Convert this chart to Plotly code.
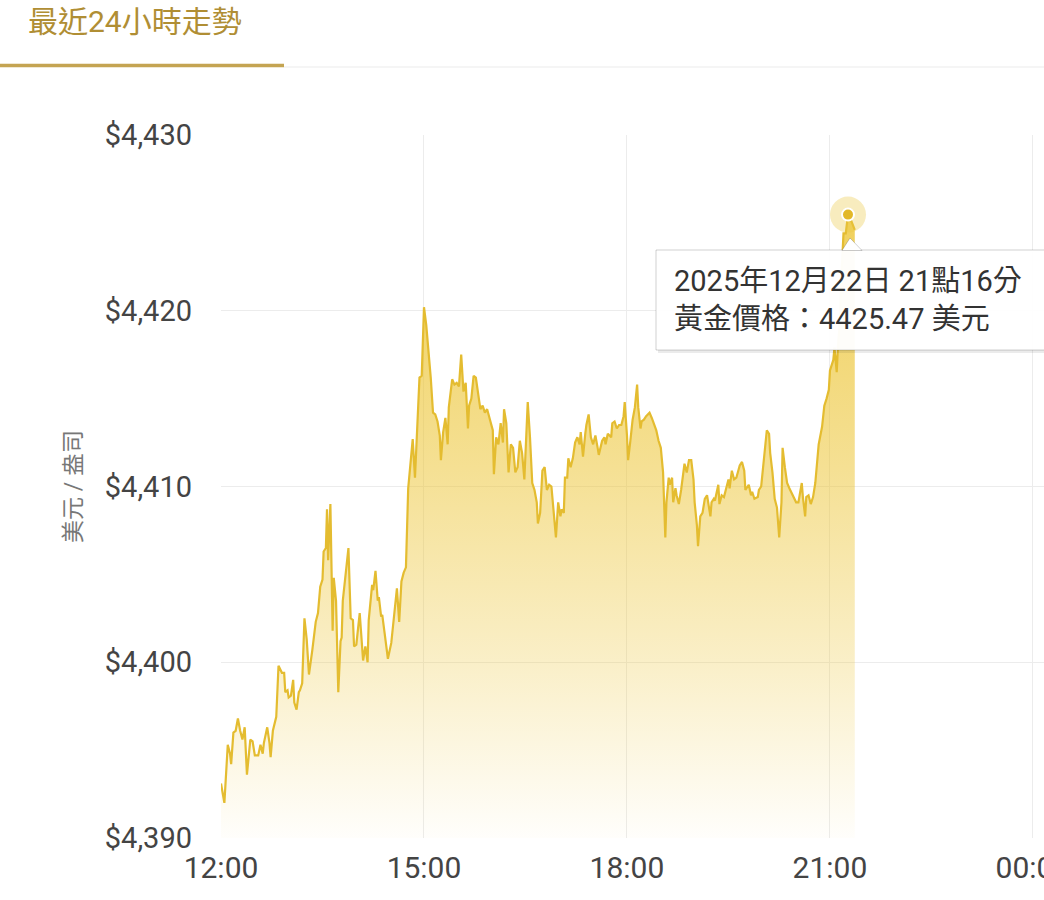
import plotly.graph_objects as go
import pandas as pd

# ---------------- data ----------------
base_time = "2025-12-22 12:00"
minutes = [0,3,6,8,9,11,13,15,17,19,21,23,26,28,30,33,35,37,38,41,43,44,46,49,51,54,56,57,59,60,
           62,64,65,67,69,70,72,74,76,78,81,84,86,88,90,91,93,94,95,97,99,100,102,104,106,107,108,110,111,113,
           115,117,118,120,123,124,126,128,130,131,134,135,137,139,140,142,143,145,148,151,153,156,158,160,162,164,166,168,170,172,
           174,176,178,180,182,184,186,188,190,192,194,195,197,199,201,202,205,207,209,211,213,215,217,219,220,222,224,226,228,230,
           232,234,236,239,241,242,244,246,248,250,251,253,255,257,259,261,263,265,267,269,272,274,276,278,280,281,283,285,287,289,
           291,293,295,297,299,301,302,304,305,307,308,310,312,314,316,318,319,321,323,324,326,328,330,332,334,335,338,340,341,343,
           346,347,349,351,353,355,357,358,360,361,363,365,367,369,370,372,373,375,377,379,380,382,384,386,388,390,392,393,394,395,
           397,398,400,401,403,404,406,408,410,411,413,415,417,419,420,422,423,425,427,429,431,432,434,435,437,438,440,441,442,444,
           446,448,450,451,453,455,457,460,462,464,465,468,470,471,473,476,477,479,482,484,486,487,489,491,493,494,495,497,498,500,
           502,504,506,508,510,512,515,516,518,519,521,523,525,527,529,530,533,535,537,539,540,543,544,546,547,549,550,552,554,556,
           559,562]
prices = [4393.1,4392.0,4395.3,4394.8,4394.2,4396.0,4396.1,4396.8,4396.1,4395.6,4396.3,4393.6,4395.6,4395.5,4394.7,4394.7,4395.3,4394.8,4395.4,4396.3,
          4395.4,4394.6,4396.1,4396.9,4399.8,4399.4,4399.4,4398.3,4398.4,4398.0,4398.1,4399.0,4397.7,4397.3,4398.3,4398.4,4398.8,4402.5,4401.3,4399.3,
          4400.7,4402.3,4402.8,4404.3,4404.7,4406.3,4406.5,4408.7,4405.8,4409.0,4401.8,4404.8,4403.5,4398.3,4401.2,4401.4,4403.5,4404.7,4405.2,4406.5,
          4402.5,4402.4,4400.9,4401.0,4402.8,4401.7,4400.1,4400.9,4400.0,4402.4,4404.4,4404.1,4405.2,4403.5,4403.7,4402.6,4402.7,4401.7,4400.2,4401.1,
          4402.2,4404.2,4402.3,4404.6,4405.1,4405.4,4409.9,4411.4,4412.7,4410.5,4413.3,4416.2,4416.3,4420.2,4419.2,4417.7,4416.2,4414.2,4414.1,4413.7,
          4412.9,4411.5,4413.1,4413.9,4412.4,4414.5,4416.1,4415.8,4415.9,4415.7,4417.5,4415.4,4415.9,4413.3,4414.6,4415.0,4416.3,4416.2,4415.4,4414.4,
          4414.6,4414.2,4414.4,4413.7,4413.2,4410.7,4412.8,4412.4,4413.6,4412.5,4414.4,4413.6,4410.8,4412.4,4412.2,4410.8,4411.1,4412.6,4411.9,4410.4,
          4414.8,4412.8,4410.2,4409.8,4409.1,4407.9,4408.5,4410.9,4411.1,4409.8,4410.1,4410.0,4408.3,4407.1,4409.1,4408.3,4408.7,4408.5,4410.5,4410.5,
          4411.6,4411.1,4411.6,4412.5,4412.8,4412.4,4413.1,4411.7,4413.0,4413.5,4414.1,4412.8,4412.4,4412.9,4412.2,4411.8,4412.6,4412.8,4412.4,4413.0,
          4412.8,4413.6,4413.7,4413.3,4413.5,4413.5,4414.0,4414.8,4412.9,4411.5,4412.6,4413.8,4414.5,4415.8,4414.5,4413.3,4413.7,4413.8,4414.0,4414.1,
          4414.2,4413.9,4413.6,4413.2,4412.6,4412.2,4410.8,4408.7,4407.1,4409.1,4410.5,4410.1,4410.5,4409.1,4409.9,4409.5,4409.0,4409.8,4410.9,4411.3,
          4410.8,4411.5,4411.5,4410.4,4409.1,4407.8,4406.6,4408.3,4408.5,4409.3,4409.5,4409.0,4408.3,4409.1,4409.3,4409.2,4409.8,4410.1,4409.0,4409.5,
          4409.4,4410.0,4410.4,4409.9,4410.9,4410.4,4410.5,4411.2,4411.4,4410.9,4409.8,4410.1,4409.5,4409.7,4409.3,4409.4,4409.8,4410.0,4411.7,4413.2,
          4413.0,4411.9,4410.8,4409.3,4408.8,4408.1,4407.1,4409.1,4412.2,4411.1,4410.2,4409.9,4409.6,4409.4,4409.1,4409.1,4410.2,4409.4,4408.3,4409.4,
          4409.5,4409.0,4409.4,4410.2,4411.5,4412.4,4413.4,4414.6,4415.0,4415.5,4416.6,4417.2,4417.9,4416.5,4417.9,4419.5,4421.7,4424.4,4424.4,4425.47,
          4425.1,4424.6]

ytick_values = [4390, 4400, 4410, 4420, 4430]
xtick_labels = ["12:00", "15:00", "18:00", "21:00", "00:00"]
xtick_offsets_h = [0, 3, 6, 9, 12]

hover_minute = 556
hover_price = 4425.47
tooltip_line1 = "2025年12月22日 21點16分"
tooltip_line2 = "黃金價格：4425.47 美元"
title_text = "最近24小時走勢"
ytitle_text = "美元 / 盎司"

# ---------------- build ----------------
t0 = pd.Timestamp(base_time)
times = [t0 + pd.Timedelta(minutes=m) for m in minutes]
tickvals = [t0 + pd.Timedelta(hours=h) for h in xtick_offsets_h]
hover_t = t0 + pd.Timedelta(minutes=hover_minute)

W, H = 1044, 900
ML, MR, MT, MB = 221, 0, 135, 62
PW, PH = W - ML - MR, H - MT - MB

def px(x):
    return (x - ML) / PW

def py(y):
    return (H - MB - y) / PH

FONT = "Roboto, 'Noto Sans CJK TC', 'Noto Sans', sans-serif"
GOLD = "rgb(228,188,48)"

fig = go.Figure()
fig.add_trace(go.Scatter(
    x=times, y=prices, mode="lines",
    line=dict(color=GOLD, width=2.2),
    fill="tozeroy",
    fillgradient=dict(type="vertical", start=4390, stop=4427,
                      colorscale=[[0, "rgba(236,196,50,0.02)"], [0.28, "rgba(236,196,50,0.28)"],
                                  [0.56, "rgba(236,196,50,0.52)"], [0.83, "rgba(236,196,50,0.72)"],
                                  [1, "rgba(236,196,50,0.82)"]]),
    hoverinfo="skip", showlegend=False,
))
# hover glow + dot
fig.add_trace(go.Scatter(
    x=[hover_t], y=[hover_price], mode="markers",
    marker=dict(size=36, color="rgba(236,200,70,0.35)", line=dict(width=0)),
    hoverinfo="skip", showlegend=False,
))
fig.add_trace(go.Scatter(
    x=[hover_t], y=[hover_price], mode="markers",
    marker=dict(size=12, color="rgb(226,184,40)", line=dict(width=2, color="white")),
    hoverinfo="skip", showlegend=False,
))

shapes = []
# header underline
shapes.append(dict(type="line", xref="paper", yref="paper", x0=px(284), x1=px(1044), y0=py(67), y1=py(67),
                   line=dict(color="#ebebeb", width=1)))
shapes.append(dict(type="line", xref="paper", yref="paper", x0=px(0), x1=px(284), y0=py(65.5), y1=py(65.5),
                   line=dict(color="rgb(196,164,82)", width=3.5)))
# tooltip shadow + box
shapes.append(dict(type="rect", xref="paper", yref="paper", x0=px(658), x1=px(1050), y0=py(353), y1=py(252),
                   fillcolor="rgba(0,0,0,0.08)", line=dict(width=0), layer="above"))
shapes.append(dict(type="rect", xref="paper", yref="paper", x0=px(656), x1=px(1048), y0=py(350), y1=py(250),
                   fillcolor="rgba(255,255,255,0.97)", line=dict(color="rgba(0,0,0,0.18)", width=1), layer="above"))
# tooltip pointer
shapes.append(dict(type="path", xref="paper", yref="paper",
                   path=f"M {px(842)} {py(250.5)} L {px(850)} {py(238)} L {px(862)} {py(250.5)} Z",
                   fillcolor="white", line=dict(color="rgba(0,0,0,0.18)", width=1), layer="above"))

annotations = [
    dict(text=title_text, x=px(26), y=py(21), xref="paper", yref="paper", xanchor="left", yanchor="middle",
         showarrow=False, font=dict(family=FONT, size=30, color="rgb(176,142,52)")),
    dict(text=ytitle_text, x=px(73), y=py(487), xref="paper", yref="paper", xanchor="center", yanchor="middle",
         textangle=-90, showarrow=False, font=dict(family=FONT, size=23, color="#777777")),
    dict(text=tooltip_line1 + "<br>" + tooltip_line2, x=px(672), y=py(300), xref="paper", yref="paper",
         xanchor="left", yanchor="middle", align="left", showarrow=False,
         font=dict(family=FONT, size=29, color="#333333")),
]

fig.update_layout(
    width=W, height=H,
    margin=dict(l=ML, r=MR, t=MT, b=MB, autoexpand=False),
    paper_bgcolor="white", plot_bgcolor="white",
    shapes=shapes, annotations=annotations,
    showlegend=False,
    xaxis=dict(
        type="date",
        range=[t0, t0 + pd.Timedelta(minutes=729.8)],
        tickvals=tickvals, ticktext=xtick_labels,
        showgrid=True, gridcolor="#ececec", gridwidth=1,
        showline=False, zeroline=False, ticks="", ticklabelstandoff=9,
        ticklabeloverflow="allow",
        tickfont=dict(family=FONT, size=30, color="#444444"),
        fixedrange=True,
    ),
    yaxis=dict(
        range=[4390, 4430],
        tickvals=ytick_values,
        ticktext=[f"${v:,}" for v in ytick_values],
        showgrid=True, gridcolor="#ececec", gridwidth=1,
        showline=False, zeroline=False, ticks="", ticklabelstandoff=28,
        tickfont=dict(family=FONT, size=29, color="#444444"),
        fixedrange=True,
    ),
)

fig.write_html("out.html", config={"displayModeBar": False},
               post_script="document.body.style.margin='0';document.body.style.overflow='hidden';")
